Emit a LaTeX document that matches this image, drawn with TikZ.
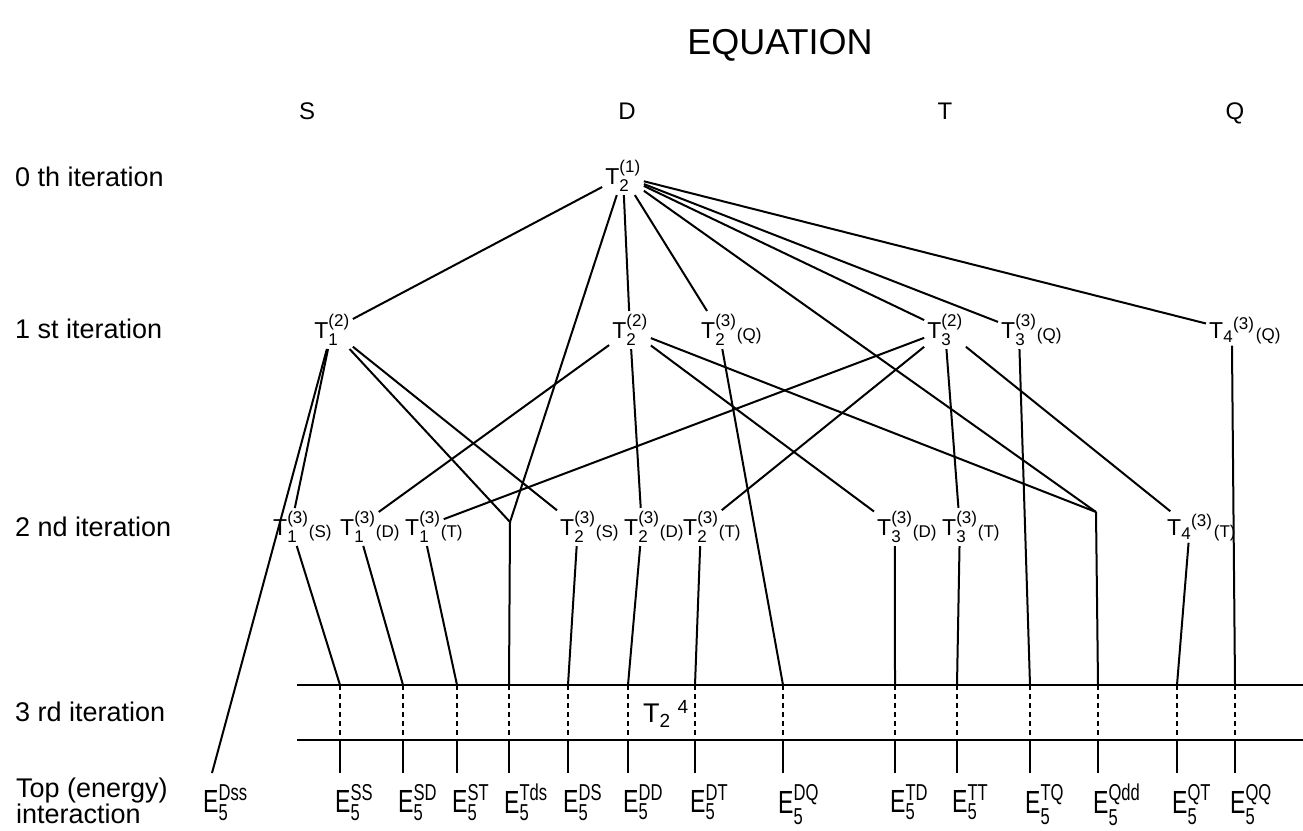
\documentclass[tikz,border=0pt]{standalone}
\usepackage{amsmath}
\usepackage{fontspec}
\setmainfont{Liberation Sans}
\newfontfamily\narrowfont[FakeStretch=0.72]{Liberation Sans}
\usepackage{tikz}
\usetikzlibrary{positioning}

\DeclareMathSizes{23}{23}{17}{12}
\DeclareMathSizes{27}{27}{19}{14}
\DeclareMathSizes{32}{32}{23}{16}

\newcommand{\Tsym}[2]{$\text{T}_{\text{#1}}^{\text{#2}}$}
\newcommand{\Tsep}[2]{$\text{T}_{\text{#1}}{}^{\text{#2}}$}
\newcommand{\Esym}[1]{$\text{E}_{\text{5}}^{\text{#1}}$}

\begin{document}
\begin{tikzpicture}[x=1pt, y=-1pt,
  tn/.style={inner sep=3pt, font=\fontsize{23}{25}\selectfont},
  qual/.style={inner sep=0pt, anchor=base west, font=\fontsize{17}{19}\selectfont},
  en/.style={inner sep=0pt, anchor=north west, font=\narrowfont\fontsize{32}{34}\selectfont},
  rowlab/.style={anchor=west, inner sep=0pt, align=left, font=\fontsize{27}{25}\selectfont},
  head/.style={inner sep=0pt, anchor=base, font=\fontsize{24}{26}\selectfont},
  link/.style={line width=2pt},
  rung/.style={line width=2pt, dash pattern=on 5pt off 4pt}]
  \useasboundingbox (0,0) rectangle (1303,830);

  % titles and rows
  \node[head, font=\fontsize{36}{38}\selectfont] (title) at (780,54) {EQUATION};
  \node[head] (hs) at (307,119) {S};
  \node[head] (hd) at (627,119) {D};
  \node[head] (ht) at (945,119) {T};
  \node[head] (hq) at (1235,119) {Q};
  \node[rowlab] (r0) at (15,177) {0 th iteration};
  \node[rowlab] (r1) at (15,329) {1 st iteration};
  \node[rowlab] (r2) at (15,527) {2 nd iteration};
  \node[rowlab] (r3) at (15,712) {3 rd iteration};
  \node[rowlab, anchor=north west] (r4) at (16,778) {Top (energy)\\interaction};

  % 0th and 1st iteration
  \node[tn] (t21) at (623,176) {\Tsym{2}{(1)}};
  \node[tn] (t12) at (332,330) {\Tsym{1}{(2)}};
  \node[tn] (t22) at (630,330) {\Tsym{2}{(2)}};
  \node[tn, anchor=west] (t23q) at (698,330) {\Tsym{2}{(3)}};
  \node[qual] (t23q-q) at ([xshift=-3pt,yshift=-2pt]t23q.base east) {(Q)};
  \node[tn] (t32) at (945,330) {\Tsym{3}{(2)}};
  \node[tn, anchor=west] (t33q) at (998,330) {\Tsym{3}{(3)}};
  \node[qual] (t33q-q) at ([xshift=-3pt,yshift=-2pt]t33q.base east) {(Q)};
  \node[tn, anchor=west] (t43q) at (1206,330) {\Tsep{4}{(3)}};
  \node[qual] (t43q-q) at ([xshift=-2pt,yshift=-2pt]t43q.base east) {(Q)};

  % 2nd iteration
  \node[tn, anchor=west] (t13s) at (270,527) {\Tsym{1}{(3)}};
  \node[qual] (t13s-q) at ([xshift=-3pt,yshift=-2pt]t13s.base east) {(S)};
  \node[tn, anchor=west] (t13d) at (337,527) {\Tsym{1}{(3)}};
  \node[qual] (t13d-q) at ([xshift=-3pt,yshift=-2pt]t13d.base east) {(D)};
  \node[tn, anchor=west] (t13t) at (402,527) {\Tsym{1}{(3)}};
  \node[qual] (t13t-q) at ([xshift=-3pt,yshift=-2pt]t13t.base east) {(T)};
  \node[tn, anchor=west] (t23s) at (557,527) {\Tsym{2}{(3)}};
  \node[qual] (t23s-q) at ([xshift=-3pt,yshift=-2pt]t23s.base east) {(S)};
  \node[tn, anchor=west] (t23d) at (621,527) {\Tsym{2}{(3)}};
  \node[qual] (t23d-q) at ([xshift=-3pt,yshift=-2pt]t23d.base east) {(D)};
  \node[tn, anchor=west] (t23t) at (680,527) {\Tsym{2}{(3)}};
  \node[qual] (t23t-q) at ([xshift=-3pt,yshift=-2pt]t23t.base east) {(T)};
  \node[tn, anchor=west] (t33d) at (874,527) {\Tsym{3}{(3)}};
  \node[qual] (t33d-q) at ([xshift=-3pt,yshift=-2pt]t33d.base east) {(D)};
  \node[tn, anchor=west] (t33t) at (939,527) {\Tsym{3}{(3)}};
  \node[qual] (t33t-q) at ([xshift=-3pt,yshift=-2pt]t33t.base east) {(T)};
  \node[tn, anchor=west] (t43t) at (1164,527) {\Tsep{4}{(3)}};
  \node[qual] (t43t-q) at ([xshift=-2pt,yshift=-2pt]t43t.base east) {(T)};
  \coordinate (j1) at (510,522);
  \coordinate (j2) at (1096,512);

  % 3rd iteration band
  \coordinate (railL) at (297,685);
  \coordinate (railR) at (1303,685);
  \coordinate (baseL) at (297,740);
  \coordinate (baseR) at (1303,740);
  \draw[link] (railL) -- (railR);
  \draw[link] (baseL) -- (baseR);
  \node[tn, font=\fontsize{27}{29}\selectfont] (t24) at (666,714) {$\text{T}_{\text{2}}\;{}^{\text{4}}$};

  % top interaction terms
  \node[en] (edss) at (203,784) {\Esym{Dss}};
  \node[en] (ess) at (335,784) {\Esym{SS}};
  \node[en] (esd) at (398,784) {\Esym{SD}};
  \node[en] (est) at (452,784) {\Esym{ST}};
  \node[en] (etds) at (504,784) {\Esym{Tds}};
  \node[en] (eds) at (563,784) {\Esym{DS}};
  \node[en] (edd) at (623,784) {\Esym{DD}};
  \node[en] (edt) at (690,784) {\Esym{DT}};
  \node[en] (edq) at (778,784) {\Esym{DQ}};
  \node[en] (etd) at (890,784) {\Esym{TD}};
  \node[en] (ett) at (952,784) {\Esym{TT}};
  \node[en] (etq) at (1025,784) {\Esym{TQ}};
  \node[en] (eqdd) at (1093,784) {\Esym{Qdd}};
  \node[en] (eqt) at (1172,784) {\Esym{QT}};
  \node[en] (eqq) at (1230,784) {\Esym{QQ}};
  \coordinate (dss) at (212,773);

  % first level links
  \draw[link] (t21) -- (t12);
  \draw[link] (t21) -- (j1);
  \draw[link] (t21) -- (t22);
  \draw[link] (t21) -- (t23q);
  \draw[link] (t21) -- (t32);
  \draw[link] (t21) -- (t33q);
  \draw[link] (t21) -- (t43q);
  \draw[link] (t21) -- (j2);

  % second level links
  \draw[link] (t12) -- (dss);
  \draw[link] (t12) -- (t13s);
  \draw[link] (t12) -- (j1);
  \draw[link] (t12) -- (t23s);
  \draw[link] (t22) -- (t13d);
  \draw[link] (t22) -- (t23d);
  \draw[link] (t22) -- (t33d);
  \draw[link] (t22) -- (j2);
  \draw[link] (t32) -- (t13t);
  \draw[link] (t32) -- (t23t);
  \draw[link] (t32) -- (t33t);
  \draw[link] (t32) -- (t43t);

  % down through the band
  \foreach \src/\dst/\x in {t13s/ess/340, t13d/esd/403, t13t/est/457, j1/etds/509,
      t23s/eds/568, t23d/edd/628, t23t/edt/695, t23q/edq/783, t33d/etd/895,
      t33t/ett/957, t33q/etq/1030, j2/eqdd/1098, t43t/eqt/1177, t43q/eqq/1235} {
    \draw[link] (\src) -- (\x,685);
    \draw[rung] (\x,685) -- (\x,740);
    \draw[link] (\x,740) -- (\x,773);
  }
\end{tikzpicture}
\end{document}
